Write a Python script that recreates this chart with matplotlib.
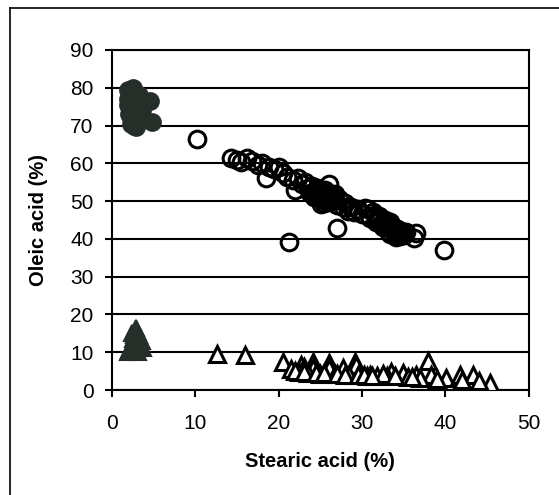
import matplotlib
matplotlib.use("Agg")
import matplotlib.pyplot as plt
from matplotlib.lines import Line2D

plt.rcParams['font.family'] = ['Liberation Sans', 'DejaVu Sans']

# filled circles (dark cluster, low stearic / high oleic)
fc_x = [2.0, 2.2, 2.4, 2.6, 2.8, 3.0, 2.1, 2.3, 2.5, 2.7, 2.9, 3.2, 2.0, 2.4,
        2.8, 3.1, 2.2, 2.6, 3.0, 2.5, 4.6, 4.8, 3.6, 2.3, 2.7, 1.9, 3.3]
fc_y = [79.5, 78.0, 77.0, 76.0, 75.0, 74.0, 73.0, 72.0, 71.0, 70.0, 69.5, 76.0,
        75.5, 74.5, 73.0, 71.5, 78.5, 79.0, 77.5, 80.0, 76.5, 71.0, 74.0, 70.5,
        72.5, 77.0, 78.0]

# open circles
oc_x = [10.2, 14.3, 15.0, 15.5, 16.2, 16.8, 17.5, 18.0, 18.5, 18.8, 19.5, 20.0,
        20.5, 21.0, 21.3, 21.7, 22.0, 22.3, 22.8, 23.2, 23.5, 24.0, 24.3, 24.7,
        25.0, 25.3, 25.6, 25.8, 26.0, 26.2, 26.5, 26.8, 27.0, 27.0, 27.3, 27.7,
        28.0, 28.3, 28.7, 29.0, 29.5, 30.0, 30.3, 30.7, 31.0, 31.3, 31.7, 32.0,
        32.3, 32.7, 33.0, 33.3, 33.7, 34.0, 34.3, 34.7, 35.0, 35.3, 36.2, 36.5,
        39.8, 24.5, 25.2, 25.5, 26.3, 24.8, 25.9, 32.5, 33.1, 33.8, 34.5, 34.1,
        33.5, 31.8, 26.7, 25.4, 24.2, 23.8, 24.9, 25.6, 26.1, 26.6, 25.1, 24.6,
        32.9, 33.4, 34.2, 34.8, 32.2, 31.5, 30.8, 33.9]
oc_y = [66.5, 61.3, 61.0, 60.3, 61.5, 60.5, 59.5, 60.0, 56.0, 59.0, 58.5, 59.0,
        57.5, 56.5, 39.2, 55.5, 53.0, 56.0, 54.5, 55.0, 53.5, 54.0, 52.5, 53.0,
        52.0, 51.0, 53.0, 50.5, 54.5, 51.5, 50.0, 52.0, 42.8, 49.0, 50.5, 48.5,
        49.5, 47.5, 48.5, 47.0, 48.0, 46.5, 48.2, 47.8, 45.5, 47.0, 44.5, 46.0,
        44.0, 45.0, 43.5, 44.5, 42.5, 43.0, 41.5, 42.0, 41.0, 41.8, 40.2, 41.5,
        37.0, 51.5, 50.5, 52.5, 51.0, 50.8, 49.8, 43.2, 42.2, 41.8, 40.8, 40.5,
        43.8, 45.2, 51.3, 49.5, 51.0, 52.2, 52.8, 51.8, 52.0, 50.3, 49.3, 53.5,
        44.2, 41.2, 42.5, 41.3, 45.3, 46.2, 46.0, 42.0]

# filled triangles
ft_x = [1.9, 2.3, 2.6, 2.9, 3.0, 2.7, 3.4, 3.6, 2.1, 2.8, 3.2, 2.5, 2.9, 3.7,
        2.4, 3.3]
ft_y = [10.0, 11.5, 12.5, 13.5, 15.5, 14.5, 12.0, 13.0, 10.5, 11.0, 10.0, 13.5,
        16.5, 11.0, 15.0, 14.5]

# open triangles
ot_x = [12.6, 16.0, 20.5, 21.5, 22.7, 23.1, 24.1, 24.1, 26.1, 26.1, 27.7, 27.7,
        29.1, 29.3, 30.6, 30.9, 33.5, 33.0, 34.9, 36.5, 37.9, 38.3, 40.1, 41.7,
        43.3, 45.3, 22.5, 23.5, 25.0, 26.8, 28.5, 31.8, 32.5, 35.5, 37.0, 39.0,
        42.0, 44.0, 22.0, 23.0, 24.5, 25.5, 27.0, 28.0, 29.5, 30.2, 31.2, 34.0,
        36.0]
ot_y = [9.5, 9.3, 7.5, 5.5, 6.6, 6.2, 7.5, 5.8, 7.1, 5.8, 5.3, 5.8, 7.5, 6.6,
        3.6, 4.0, 4.9, 3.8, 4.5, 4.0, 7.8, 4.0, 3.2, 4.0, 4.0, 1.8, 4.8, 4.5, 4.3,
        4.2, 4.0, 3.7, 4.2, 3.5, 3.3, 2.8, 2.6, 2.4, 5.0, 4.7, 4.6, 4.4, 4.3,
        4.1, 4.0, 3.9, 3.8, 3.6, 3.4]

dark = '#262e2a'

fig = plt.figure(figsize=(5.59, 4.95), dpi=100)
ax = fig.add_axes([0.2, 0.212, 0.746, 0.687])

ax.plot(fc_x, fc_y, 'o', ms=12, mfc=dark, mec=dark, mew=1.5, zorder=3)
ax.plot(oc_x, oc_y, 'o', ms=12, mfc='none', mec='black', mew=2.2, zorder=3)
ax.plot(ft_x, ft_y, '^', ms=11, mfc=dark, mec=dark, mew=1.5, zorder=3)
ax.plot(ot_x, ot_y, '^', ms=11, mfc='white', mec='black', mew=2.2, zorder=3)

ax.set_xlim(0, 50)
ax.set_ylim(0, 90)
ax.set_xticks(range(0, 51, 10))
ax.set_yticks(range(0, 91, 10))
ax.grid(axis='y', color='black', lw=1.5)
ax.set_axisbelow(True)
for s in ax.spines.values():
    s.set_linewidth(1.5)
ax.tick_params(axis='both', direction='out', length=5, width=1.5, labelsize=15)
ax.tick_params(axis='x', pad=12)
ax.tick_params(axis='y', pad=8)

ax.set_xlabel('Stearic acid (%)', fontsize=14.5, fontweight='bold', labelpad=14)
ax.set_ylabel('Oleic acid (%)', fontsize=14.5, fontweight='bold', labelpad=16)

# outer frame around the chart
fig.add_artist(Line2D([0.018, 0.018], [0.0, 0.984], color='black', lw=1.2))
fig.add_artist(Line2D([0.018, 1.0], [0.984, 0.984], color='black', lw=1.2))

fig.savefig('out.png', dpi=100)
